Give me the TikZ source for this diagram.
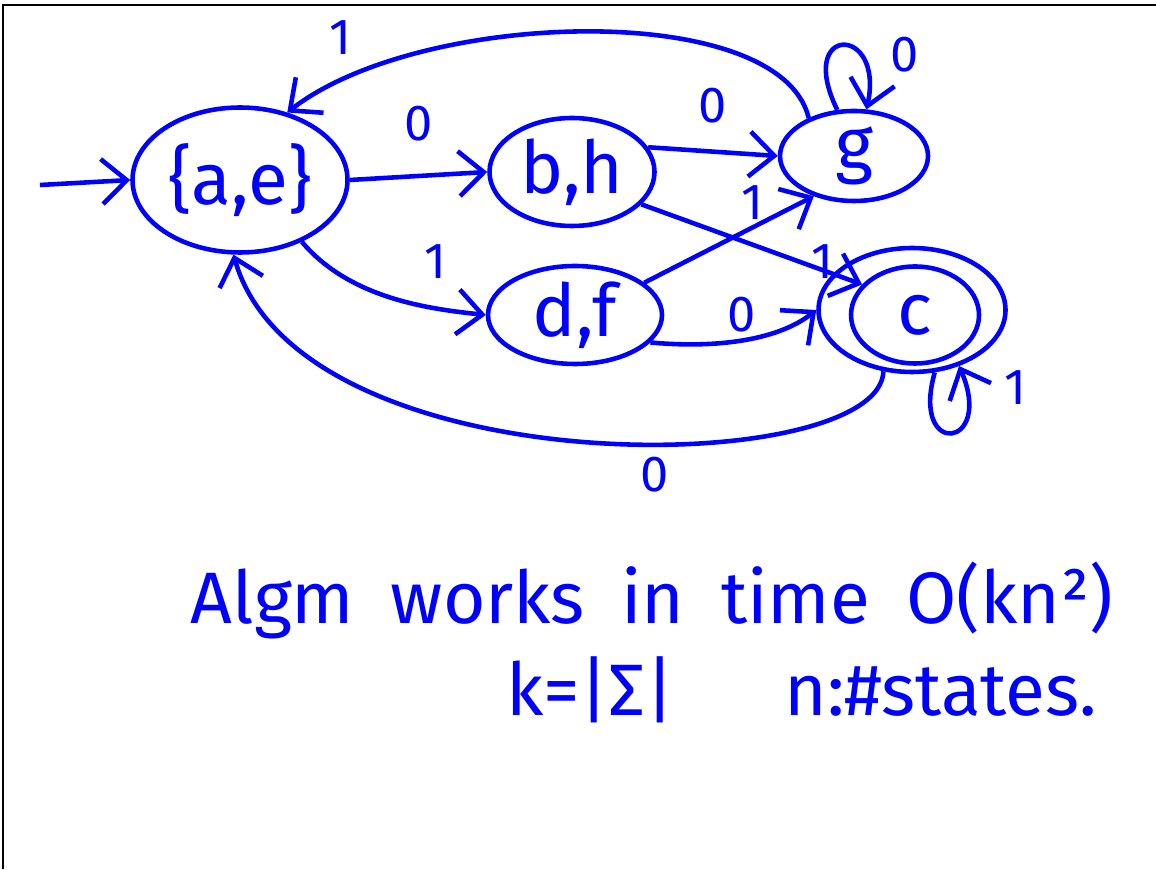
\documentclass[tikz,border=0pt]{standalone}
\usepackage{fontspec}
\setmainfont{Fira Sans}
\usetikzlibrary{shapes.geometric,arrows.meta}
\definecolor{handblue}{RGB}{0,0,255}

\begin{document}
\begin{tikzpicture}[
        st/.style={ellipse, draw=handblue, line width=1.3pt, text=handblue, font=\huge, inner sep=0pt},
        trans/.style={draw=handblue, line width=1.3pt, -{Straight Barb[length=2.5mm,width=4.5mm]}},
        lbl/.style={text=handblue, font=\Large}]
        \useasboundingbox (0,0) rectangle (11.56,8.69);
        \draw[black, line width=0.6pt] (0.03,0) -- (0.03,8.64) -- (11.56,8.64);

        \node[st, minimum width=2.15cm, minimum height=1.45cm, inner xsep=-4pt] (ae) at (2.40,6.89) {\{a,e\}};
        \node[st, minimum width=1.65cm, minimum height=1.08cm] (bh) at (5.72,6.97) {b,h};
        \node[st, minimum width=1.48cm, minimum height=0.90cm] (g) at (8.54,7.13) {g};
        \node[st, minimum width=1.74cm, minimum height=0.98cm] (df) at (5.75,5.54) {d,f};
        \node[st, minimum width=1.28cm, minimum height=0.97cm] (c) at (9.15,5.54) {c};
        \node[st, minimum width=1.87cm, minimum height=1.24cm] (cout) at (9.12,5.59) {};
        \coordinate (start) at (0.40,6.84);

        \draw[trans] (start) -- (ae.west);
        \draw[trans] (ae.east) -- (bh.west) node[lbl, midway, above=6pt] {0};
        \draw[trans] (ae.-45) .. controls (3.5,5.7) and (4.3,5.6) .. (df.west);
        \node[lbl] at (4.35,6.07) {1};
        \draw[trans] (bh.18) -- (g.west) node[lbl, midway, above=4pt] {0};
        \draw[trans] (bh.-25) -- (c.150);
        \node[lbl] at (8.22,6.07) {1};
        \draw[trans] (df.25) -- (g.-135);
        \node[lbl] at (7.52,6.66) {1};
        \draw[trans] (df.-20) .. controls (7.2,5.2) and (7.8,5.3) .. (cout.west);
        \node[lbl] at (7.42,5.54) {0};

        % long way back to the start state
        \draw[trans] (g.140) .. controls (7.8,8.7) and (4.2,8.6) .. (ae.55);
        \node[lbl] at (3.40,8.31) {1};
        \draw[trans] (cout.-115) .. controls (8.8,3.9) and (3.0,3.8) .. (ae.-95);
        \node[lbl] at (6.55,3.94) {0};

        % self loops
        \draw[trans] (g.110) .. controls (7.95,8.45) and (8.85,8.45) .. (g.75);
        \node[lbl] at (9.05,8.14) {0};
        \draw[trans] (cout.-70) .. controls (9.1,4.1) and (9.95,4.2) .. (cout.-50);
        \node[lbl] at (10.15,4.81) {1};

        \node[text=handblue, font=\huge] (line1) at (6.52,2.69)
            {Algm\hspace{0.5em}works\hspace{0.5em}in\hspace{0.5em}time\hspace{0.5em}O(kn²)};
        \node[text=handblue, font=\huge] (line2) at (8.02,1.79) {k=|Σ|\hspace{1.5em}n:\#states.};
\end{tikzpicture}
\end{document}
